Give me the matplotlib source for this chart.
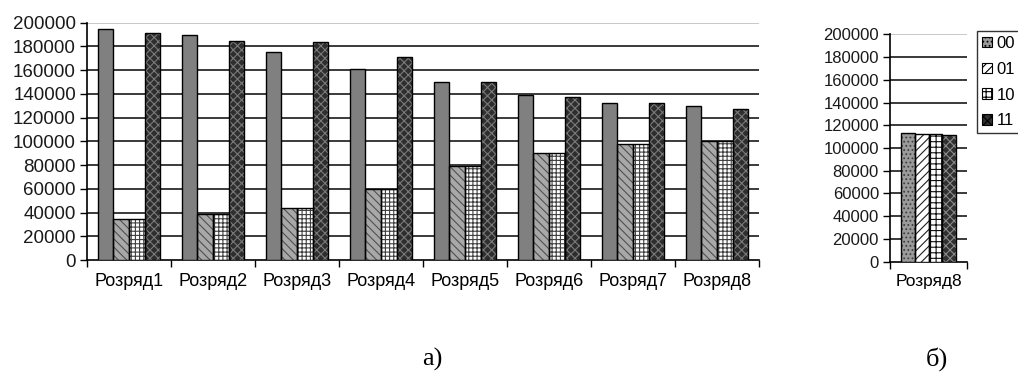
import numpy as np
import matplotlib
matplotlib.use("Agg")
import matplotlib.pyplot as plt

plt.rcParams['font.family'] = ['Liberation Sans', 'DejaVu Sans']
plt.rcParams['hatch.linewidth'] = 0.8

# data
categories = ['Розряд1', 'Розряд2', 'Розряд3', 'Розряд4',
              'Розряд5', 'Розряд6', 'Розряд7', 'Розряд8']
series_names = ['00', '01', '10', '11']
s00 = [195000, 190000, 175000, 161000, 150000, 139000, 132000, 130000]
s01 = [35000, 39000, 43500, 60000, 79000, 90000, 97500, 100000]
s10 = [35000, 39000, 43500, 60000, 79000, 90000, 97500, 100000]
s11 = [191000, 185000, 184000, 171000, 150000, 137000, 132000, 127000]

right_category = ['Розряд8']
right_values = [113500, 112400, 112000, 111500]

yticks = np.arange(0, 200001, 20000)

# (facecolor, hatch, hatch colour) per series
left_styles = [('#808080', None, '#808080'),
               ('#a8a8a8', '\\\\\\\\', '#505050'),
               ('#ffffff', '++++', '#404040'),
               ('#2e2e2e', 'xxxx', '#7a7a7a')]
right_styles = [('#9a9a9a', '....', '#404040'),
                ('#ffffff', '////', '#202020'),
                ('#ffffff', '+++', '#101010'),
                ('#303030', 'xxxx', '#8a8a8a')]


def hatched_bar(ax, x, h, w, style):
    fc, hatch, hc = style
    ax.bar(x, h, w, color=fc, hatch=hatch, edgecolor=hc, linewidth=0, zorder=3)
    return ax.bar(x, h, w, fill=False, edgecolor='black', linewidth=1.0, zorder=4)


def style_axis(ax, fs):
    ax.set_ylim(0, 200000)
    ax.set_yticks(yticks)
    ax.set_yticklabels([str(v) for v in yticks], fontsize=fs, color='#1a1a1a')
    ax.tick_params(axis='y', direction='out', length=5, width=1, pad=3)
    for sp in ['top', 'right']:
        ax.spines[sp].set_visible(False)
    ax.spines['left'].set_linewidth(1.2)
    ax.spines['bottom'].set_linewidth(1.2)
    for v in yticks[1:]:
        col = '#c8c8c8' if v == 200000 else '#3a3a3a'
        ax.axhline(v, color=col, linewidth=1.4, zorder=1)


fig = plt.figure(figsize=(10.18, 3.87), dpi=100)

# a) left chart
ax1 = fig.add_axes([0.0855, 0.328, 0.6601, 0.6133])
x = np.arange(len(categories))
w = 0.185
vals = [s00, s01, s10, s11]
for i, v in enumerate(vals):
    hatched_bar(ax1, x + (i - 1.5) * w, v, w, left_styles[i])
ax1.set_xlim(-0.5, len(categories) - 0.5)
style_axis(ax1, 13.5)
ax1.set_xticks(x)
ax1.set_xticklabels(categories, fontsize=13)
ax1.tick_params(axis='x', which='major', length=0, pad=9)
ax1.set_xticks(np.arange(-0.5, len(categories), 1), minor=True)
ax1.tick_params(axis='x', which='minor', direction='out', length=5, width=1)

# б) right chart
ax2 = fig.add_axes([0.8743, 0.3238, 0.0756, 0.5876])
for i, v in enumerate(right_values):
    hatched_bar(ax2, [(i - 1.5) * 0.18], [v], 0.18, right_styles[i])
ax2.set_xlim(-0.5, 0.5)
style_axis(ax2, 12)
ax2.set_xticks([0])
ax2.set_xticklabels(right_category, fontsize=12.5)
ax2.tick_params(axis='x', which='major', length=0, pad=9)
ax2.set_xticks([-0.5, 0.5], minor=True)
ax2.tick_params(axis='x', which='minor', direction='out', length=5, width=1)

# legend built from right-chart bar styles
leg_handles = []
for st in right_styles:
    fc, hatch, hc = st
    leg_handles.append(plt.Rectangle((0, 0), 1, 1, facecolor=fc, hatch=hatch,
                                     edgecolor='black', linewidth=0.8))
leg = fig.legend(leg_handles, series_names, loc='upper left',
                 bbox_to_anchor=(0.9600, 0.920), fontsize=12,
                 handlelength=0.6, handleheight=0.6, handletextpad=0.25,
                 labelspacing=0.65, borderpad=0.3, borderaxespad=0,
                 fancybox=False, edgecolor='#333333', framealpha=1)
leg.get_frame().set_linewidth(1.0)

fig.text(0.4245, 0.055, 'а)', fontsize=19, family='Liberation Serif', ha='center')
fig.text(0.9205, 0.055, 'б)', fontsize=19, family='Liberation Serif', ha='center')

fig.savefig('out.png', dpi=100)
